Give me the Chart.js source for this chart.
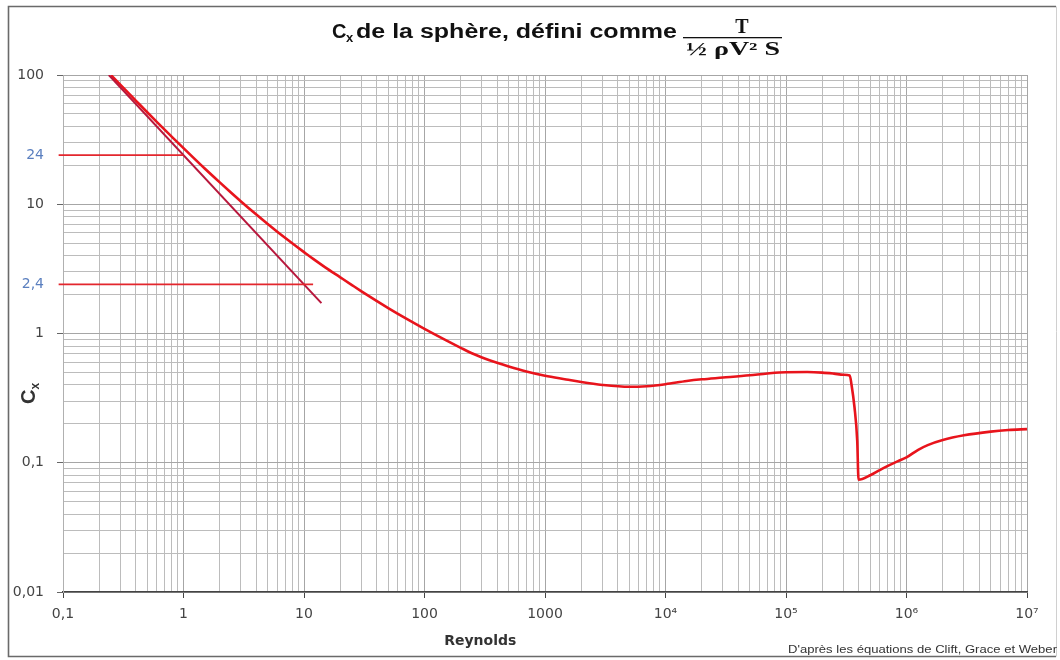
<!DOCTYPE html>
<html><head><meta charset="utf-8">
<script src="https://cdn.jsdelivr.net/npm/chart.js@4.4.1/dist/chart.umd.min.js"></script>
<style>html,body{margin:0;padding:0;background:#fff;}#wrap{width:1060px;height:660px;}</style>
</head><body><div id="wrap"><canvas id="c" width="1060" height="660"></canvas></div>
<script>
// Main curve: Cx of the sphere vs Reynolds number
const reynolds = [0.2505, 0.3, 0.35, 0.4, 0.5, 0.6, 0.7, 0.85, 1, 1.2, 1.5, 2, 2.5, 3, 4, 5, 6, 7, 8.5, 10, 12, 15, 20, 25, 30, 40, 50, 70, 100, 150, 200, 250, 300, 400, 500, 700, 1000, 1500, 2000, 3000, 5000, 7000, 1e4, 1.5e4, 2e4, 3e4, 5e4, 7e4, 1e5, 1.5e5, 2e5, 2.5e5, 3e5, 3.38e5, 3.5e5, 3.7e5, 3.9e5, 4e5, 5e5, 6e5, 7e5, 8.5e5, 1e6, 1.25e6, 1.5e6, 2e6, 3e6, 5e6, 7e6, 1e7];
const cxSphere = [99.7, 83.8, 72.3, 63.7, 51.5, 43.4, 37.6, 31.5, 27.2, 23.05, 18.9, 14.76, 12.23, 10.52, 8.36, 7.03, 6.13, 5.48, 4.77, 4.26, 3.76, 3.25, 2.72, 2.37, 2.12, 1.788, 1.574, 1.309, 1.087, 0.889, 0.775, 0.70, 0.653, 0.593, 0.555, 0.508, 0.471, 0.441, 0.421, 0.400, 0.387, 0.391, 0.405, 0.429, 0.442, 0.456, 0.475, 0.491, 0.502, 0.503, 0.498, 0.489, 0.480, 0.474, 0.40, 0.27, 0.148, 0.074, 0.080, 0.0878, 0.0945, 0.103, 0.110, 0.126, 0.137, 0.150, 0.163, 0.174, 0.179, 0.182];
// Stokes line 24/Re
const stokesRe = [0.24, 13.95];
const stokesCx = [100, 1.72];
// Reference horizontal lines
const ref24Re = [0.092, 1];
const ref24Cx = [24, 24];
const ref2_4Re = [0.092, 11.9];
const ref2_4Cx = [2.4, 2.4];
// Axis ticks
const xMajorValues = [0.1, 1, 10, 100, 1000, 1e4, 1e5, 1e6, 1e7];
const xTickLabels = ['0,1', '1', '10', '100', '1000', '10\u2074', '10\u2075', '10\u2076', '10\u2077'];
const yMajorValues = [0.01, 0.1, 1, 10, 100];
const yTickLabels = ['0,01', '0,1', '1', '10', '100'];
const yRefValues = [2.4, 24];
const yRefLabels = ['2,4', '24'];
const mantissas = [1, 2, 3, 4, 5, 6, 7, 8, 9];

const same = (a, b) => Math.abs(Math.log10(a) - Math.log10(b)) < 1e-6;
const idxOf = (v, arr) => arr.findIndex(m => same(v, m));
function logTicks(majors, extra) {
  const vals = [];
  for (let i = 0; i < majors.length - 1; i++) for (const m of mantissas) vals.push(+(majors[i] * m).toPrecision(6));
  vals.push(majors[majors.length - 1]);
  extra.forEach(v => vals.push(v));
  vals.sort((a, b) => a - b);
  return vals.map(v => ({ value: v }));
}
const pts = (xs, ys) => xs.map((x, i) => ({ x: x, y: ys[i] }));

function drawFit(ctx, text, x, y, font, width, align) {
  ctx.save();
  ctx.font = font;
  const m = ctx.measureText(text).width;
  const sx = width ? width / m : 1;
  ctx.translate(x, y);
  ctx.scale(sx, 1);
  ctx.textAlign = align || 'left';
  ctx.fillText(text, 0, 0);
  ctx.restore();
}

const decor = {
  id: 'decor',
  beforeDraw(chart) {
    const ctx = chart.ctx;
    ctx.save(); ctx.fillStyle = '#fff'; ctx.fillRect(0, 0, chart.width, chart.height); ctx.restore();
  },
  afterDraw(chart) {
    const ctx = chart.ctx;
    const xs = chart.scales.x;
    ctx.save();
    // frame
    ctx.strokeStyle = '#6a6a6a'; ctx.lineWidth = 1.6;
    ctx.beginPath(); ctx.moveTo(1056, 6.5); ctx.lineTo(8.5, 6.5); ctx.lineTo(8.5, 656.5); ctx.lineTo(1056, 656.5); ctx.stroke();
    ctx.strokeStyle = '#d0d0d0'; ctx.lineWidth = 1;
    ctx.beginPath(); ctx.moveTo(1056.5, 6.5); ctx.lineTo(1056.5, 656.5); ctx.stroke();
    // title
    ctx.fillStyle = '#111'; ctx.textBaseline = 'alphabetic';
    drawFit(ctx, 'C', 332, 38, 'bold 20px "Liberation Sans"', 0);
    drawFit(ctx, 'x', 346, 42, 'bold 13px "Liberation Sans"', 0);
    drawFit(ctx, 'de la sphère, défini comme', 356, 38, 'bold 20px "Liberation Sans"', 321);
    ctx.fillRect(683, 37, 99, 1.3);
    drawFit(ctx, 'T', 742, 33, 'bold 20px "Liberation Serif"', 0, 'center');
    drawFit(ctx, '\u00BD \u03C1V\u00B2 S', 686, 55, 'bold 18px "Liberation Serif"', 94);
    // x axis title
    ctx.fillStyle = '#333';
    drawFit(ctx, 'Reynolds', xs.getPixelForValue(290), 645, 'bold 14px "DejaVu Sans"', 0, 'center');
    // y axis title
    ctx.save();
    ctx.translate(35, 404); ctx.rotate(-Math.PI / 2);
    ctx.font = 'bold 20px "Liberation Sans"'; ctx.textAlign = 'left';
    ctx.fillText('C', 0, 0);
    const cw = ctx.measureText('C').width;
    ctx.font = 'bold 12px "Liberation Sans"';
    ctx.fillText('x', cw, 4);
    ctx.restore();
    // attribution
    ctx.fillStyle = '#333';
    drawFit(ctx, "D'après les équations de Clift, Grace et Weber", 1057, 653, '11px "Liberation Sans"', 269, 'right');
    ctx.restore();
  }
};

const labelFont = { family: 'DejaVu Sans', size: 14 };
new Chart(document.getElementById('c').getContext('2d'), {
  type: 'scatter',
  data: {
    datasets: [
      { data: pts(ref24Re, ref24Cx), borderColor: '#e3262d', borderWidth: 1.6, showLine: true, pointRadius: 0, clip: false },
      { data: pts(ref2_4Re, ref2_4Cx), borderColor: '#e3262d', borderWidth: 1.6, showLine: true, pointRadius: 0, clip: false },
      { data: pts(stokesRe, stokesCx), borderColor: '#b8173c', borderWidth: 2, showLine: true, pointRadius: 0 },
      { data: pts(reynolds, cxSphere), borderColor: '#e8141c', borderWidth: 2.6, showLine: true, pointRadius: 0, cubicInterpolationMode: 'monotone' }
    ]
  },
  options: {
    responsive: false, animation: false, devicePixelRatio: 1,
    layout: { padding: { left: 8, right: 33, top: 75, bottom: 38 } },
    plugins: { legend: { display: false }, tooltip: { enabled: false }, title: { display: false } },
    scales: {
      x: {
        type: 'logarithmic', min: 0.1, max: 1e7, position: 'bottom',
        afterBuildTicks: s => { s.ticks = logTicks(xMajorValues, []); },
        afterFit: s => { s.height = 30; },
        ticks: {
          autoSkip: false, maxRotation: 0, minRotation: 0, padding: 8, color: '#444', font: labelFont,
          callback: v => { const i = idxOf(v, xMajorValues); return i >= 0 ? xTickLabels[i] : ''; }
        },
        grid: {
          color: c => (c.tick && idxOf(c.tick.value, xMajorValues) >= 0) ? '#a6a6a6' : '#bcbcbc',
          tickColor: c => (c.tick && idxOf(c.tick.value, xMajorValues) >= 0) ? '#444' : 'rgba(0,0,0,0)',
          tickLength: 6, lineWidth: 1
        },
        border: { color: '#444', width: 1.5 }
      },
      y: {
        type: 'logarithmic', min: 0.01, max: 100, position: 'left',
        afterBuildTicks: s => { s.ticks = logTicks(yMajorValues, yRefValues); },
        afterFit: s => { s.width = 55; },
        ticks: {
          autoSkip: false, padding: 13, font: labelFont,
          color: c => (c.tick && idxOf(c.tick.value, yRefValues) >= 0) ? '#5a7fbf' : '#444',
          callback: v => {
            let i = idxOf(v, yMajorValues); if (i >= 0) return yTickLabels[i];
            i = idxOf(v, yRefValues); if (i >= 0) return yRefLabels[i];
            return '';
          }
        },
        grid: {
          color: c => {
            if (!c.tick) return '#bcbcbc';
            if (idxOf(c.tick.value, yRefValues) >= 0) return 'rgba(0,0,0,0)';
            return idxOf(c.tick.value, yMajorValues) >= 0 ? '#a6a6a6' : '#bcbcbc';
          },
          tickColor: c => (c.tick && idxOf(c.tick.value, yMajorValues) >= 0) ? '#666' : 'rgba(0,0,0,0)',
          tickLength: 6, lineWidth: 1
        },
        border: { color: '#b0b0b0', width: 1 }
      }
    }
  },
  plugins: [decor]
});
</script>
</body></html>
